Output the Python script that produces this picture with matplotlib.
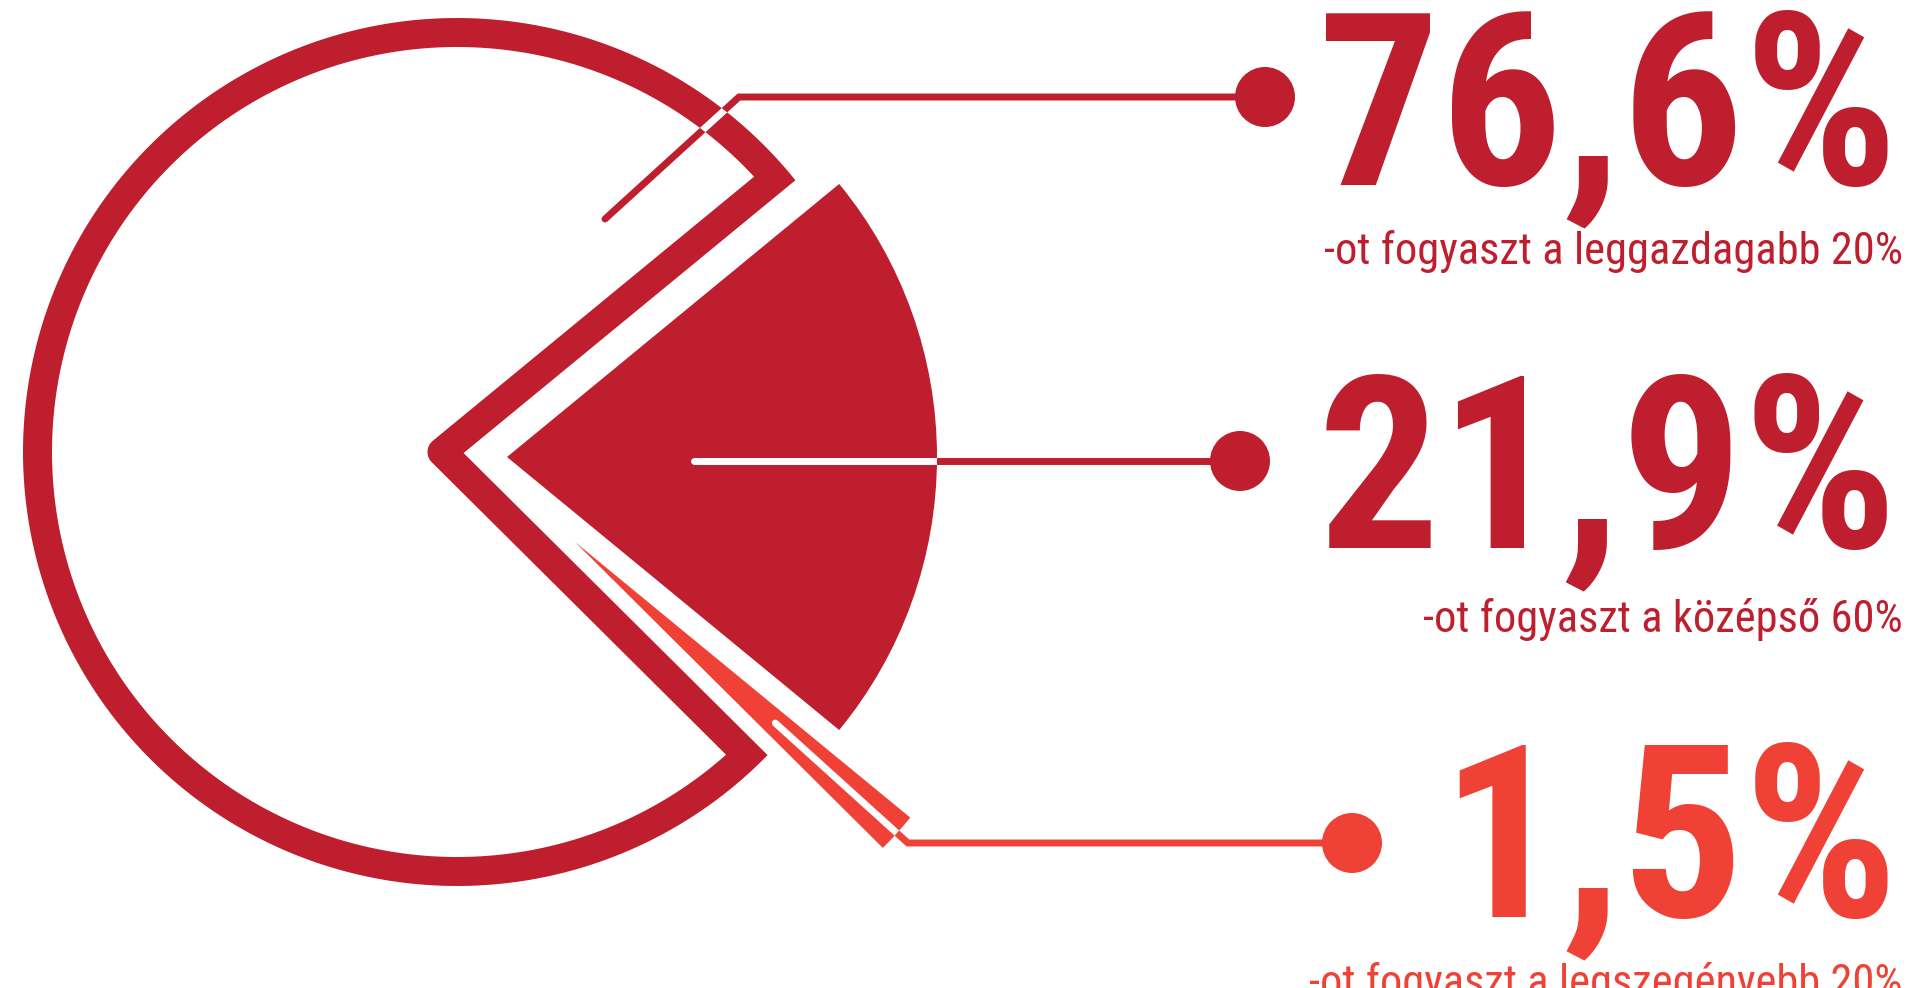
import numpy as np
import matplotlib.pyplot as plt
from matplotlib.patches import PathPatch, Wedge, Circle
from matplotlib.path import Path

# --- data ---
shares = [76.6, 21.9, 1.5]
groups = ["leggazdagabb 20%", "középső 60%", "legszegényebb 20%"]
colors = ["#BE1E2D", "#BE1E2D", "#EF4136"]

W, H = 1907, 988
fig = plt.figure(figsize=(W / 100, H / 100), dpi=100)
ax = fig.add_axes([0, 0, 1, 1])
ax.set_xlim(0, W)
ax.set_ylim(0, H)
ax.set_aspect('equal')
ax.axis('off')

# slice angles: 21.9% centred on 0 deg, 1.5% directly below it, rest is the big one
span = [s * 3.6 for s in shares]
mid_hi = span[1] / 2
mid_lo = -span[1] / 2
low_lo = mid_lo - span[2]


def unit(a):
    r = np.radians(a)
    return np.array([np.cos(r), np.sin(r)])


def hit_circle(p, d, c, r):
    f = p - c
    b = f @ d
    t = -b + np.sqrt(b * b - (f @ f - r * r))
    return p + t * d


def line_cross(p1, d1, p2, d2):
    t, s = np.linalg.solve(np.array([d1, -d2]).T, p2 - p1)
    return p1 + t * d1


def arc_pts(c, r, a0, a1, n=240):
    a = np.radians(np.linspace(a0, a1, n))
    return np.column_stack([c[0] + r * np.cos(a), c[1] + r * np.sin(a)])


def closed(pts):
    v = np.vstack([pts, pts[:1]])
    c = [Path.MOVETO] + [Path.LINETO] * (len(pts) - 1) + [Path.CLOSEPOLY]
    return v, c


# --- 1. big slice drawn as a thick outline ---
ring_c = np.array([457., 536.])
ring_v = np.array([442., 536.])
ring_r = 419.5
h = 29 / 2
d1, d2 = unit(mid_hi), unit(low_lo)
n1, n2 = unit(mid_hi - 90), unit(low_lo + 90)   # mouth side normals
tip1 = hit_circle(ring_v + h * n1, d1, ring_c, ring_r + h)
tip2 = hit_circle(ring_v + h * n2, d2, ring_c, ring_r + h)
p_s = line_cross(ring_v + h * n1, d1, ring_v + h * n2, d2)
q1 = hit_circle(ring_v - h * n1, d1, ring_c, ring_r - h)
q2 = hit_circle(ring_v - h * n2, d2, ring_c, ring_r - h)


def ang(p):
    return np.degrees(np.arctan2(p[1] - ring_c[1], p[0] - ring_c[0]))


outer = np.vstack([arc_pts(ring_c, ring_r + h, ang(tip1), ang(tip2) + 360), [p_s]])
inner = np.vstack([arc_pts(ring_c, ring_r - h, ang(q1), ang(q2) + 360),
                   arc_pts(ring_v, h, low_lo - 90, mid_hi + 90 - 360, 60)])
v1, c1 = closed(outer)
v2, c2 = closed(inner[::-1])
ring = PathPatch(Path(np.vstack([v1, v2]), c1 + c2), fc=colors[0], ec='none', zorder=2)
ax.add_patch(ring)

# --- 2. middle slice, filled ---
mid = Wedge((507, 531), 430, mid_lo, mid_hi, fc=colors[1], ec='none', zorder=2)
ax.add_patch(mid)

# --- 3. thin slice ---
s_c = np.array([575., 446.])
thin = Wedge(tuple(s_c), 434, low_lo, mid_lo, fc=colors[2], ec='none', zorder=2)
ax.add_patch(thin)

# --- leaders: coloured line, white where it runs over its own slice ---
lw = 5.0
dots = [(1265, 891), (1240, 527), (1352, 145)]
bis = (mid_lo + low_lo) / 2
r_corner = (dots[2][1] - s_c[1]) / np.sin(np.radians(bis))
paths = [
    [(605, 769), (739, 891), dots[0]],
    [(694, 527), dots[1]],
    [tuple(s_c + 270 * unit(bis)), tuple(s_c + r_corner * unit(bis)), dots[2]],
]
clips = [ring, mid, thin]
for pts, col, clip, dot in zip(paths, colors, clips, dots):
    xs, ys = zip(*pts)
    ax.plot(xs, ys, color=col, lw=lw, solid_capstyle='round', solid_joinstyle='miter', zorder=3)
    wl, = ax.plot(xs, ys, color='white', lw=lw, solid_capstyle='round', zorder=4)
    wl.set_clip_path(clip)
    ax.add_patch(Circle(dot, 30, fc=col, ec='none', zorder=5))

# --- texts ---
num_base = [804, 441, 72]
sub_base = [724, 356, -8]
for v, g, col, nb, sb in zip(shares, groups, colors, num_base, sub_base):
    label = f"{v:.1f}".replace('.', ',') + '%'
    ax.text(1898, nb, label, ha='right', va='baseline', fontsize=174,
            fontweight='bold', family='Roboto Condensed', color=col)
    ax.text(1903, sb, f"-ot fogyaszt a {g}", ha='right', va='baseline',
            fontsize=32, fontweight='normal', family='Roboto Condensed', color=col)

fig.savefig('out.png', dpi=100)
